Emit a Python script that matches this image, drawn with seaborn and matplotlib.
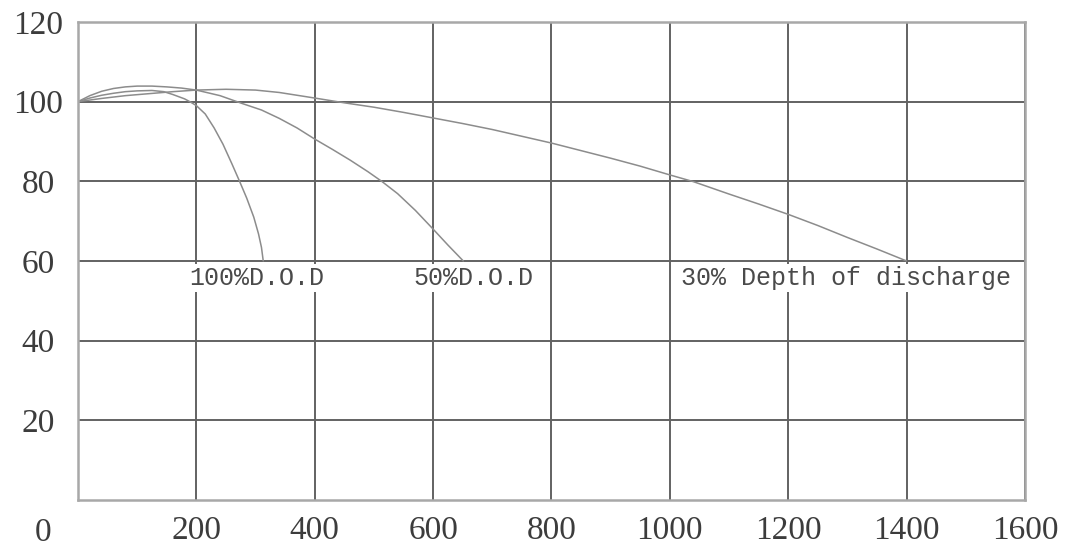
"""Cycle life vs depth of discharge chart (datasheet style)."""

import matplotlib
matplotlib.use("Agg")

import matplotlib.pyplot as plt
import seaborn as sns

# Capacity (%) vs number of cycles
dod100_cycles = [0, 20, 40, 60, 80, 100, 125, 145, 160, 180, 190, 200, 215, 230, 245,
                 260, 273, 285, 297, 305, 310, 313]
dod100_capacity = [100, 100.9, 101.6, 102.1, 102.5, 102.7, 102.8, 102.5, 101.8, 100.7,
                   99.9, 99.0, 96.9, 93.4, 89.3, 84.4, 80.0, 75.8, 71.0, 66.8, 63.4, 60.0]

dod50_cycles = [0, 20, 40, 60, 80, 100, 125, 150, 175, 200, 240, 276, 310, 340, 370,
                400, 430, 460, 490, 514, 540, 570, 600, 625, 651]
dod50_capacity = [100, 101.5, 102.6, 103.3, 103.7, 103.9, 103.9, 103.7, 103.4, 102.9,
                  101.5, 99.6, 97.9, 95.8, 93.4, 90.6, 88.0, 85.3, 82.4, 79.9, 76.9,
                  72.7, 68.0, 64.0, 60.0]

dod30_cycles = [0, 40, 80, 120, 160, 200, 250, 300, 340, 400, 450, 500, 550, 600, 650,
                700, 750, 800, 850, 900, 950, 1000, 1040, 1100, 1150, 1200, 1250, 1300,
                1350, 1400]
dod30_capacity = [100, 100.8, 101.5, 102.0, 102.5, 102.9, 103.1, 102.9, 102.3, 100.9,
                  99.7, 98.6, 97.3, 95.9, 94.5, 93.0, 91.3, 89.6, 87.7, 85.8, 83.8,
                  81.6, 79.9, 76.8, 74.3, 71.7, 68.9, 65.9, 63.0, 60.0]

curve_labels = ["100%D.O.D", "50%D.O.D", "30% Depth of discharge"]
label_x = [188, 566, 1018]
label_y = [55.6, 55.6, 55.6]

x_ticks = [200, 400, 600, 800, 1000, 1200, 1400, 1600]
y_ticks = [20, 40, 60, 80, 100, 120]

GRID = "#626262"
FRAME = "#a8a8a8"
CURVE = "#8c8c8c"
TEXT = "#3c3c3c"

sns.set_theme(style="white")
plt.rcParams.update({
    "font.family": ["Liberation Serif", "DejaVu Serif"],
    "axes.edgecolor": FRAME,
    "axes.linewidth": 1.8,
    "xtick.color": TEXT,
    "ytick.color": TEXT,
})

fig, ax = plt.subplots(figsize=(10.67, 5.49), dpi=100)
fig.subplots_adjust(left=0.0731, right=0.9606, top=0.96, bottom=0.0893)

series = [
    (dod100_cycles, dod100_capacity),
    (dod50_cycles, dod50_capacity),
    (dod30_cycles, dod30_capacity),
]
for cycles, capacity in series:
    sns.lineplot(x=cycles, y=capacity, ax=ax, color=CURVE, linewidth=1.1,
                 estimator=None, sort=False)

ax.set_xlim(0, 1600)
ax.set_ylim(0, 120)
ax.set_xticks(x_ticks)
ax.set_xticklabels([str(t) for t in x_ticks], fontsize=24)
ax.set_yticks(y_ticks)
ax.set_yticklabels([str(t) for t in y_ticks], fontsize=24)
for lbl in ax.get_yticklabels():
    lbl.set_horizontalalignment("center")
ax.tick_params(axis="y", length=0, pad=28.5)
ax.tick_params(axis="x", length=0, pad=11)

ax.set_axisbelow(True)
ax.grid(True, color=GRID, linewidth=1.4)
for side in ["top", "bottom", "left", "right"]:
    ax.spines[side].set_visible(True)
    ax.spines[side].set_zorder(5)

# the shared corner origin label
ax.text(-0.037, -0.069, "0", transform=ax.transAxes, ha="center", va="center",
        fontsize=24, color=TEXT)

for text, tx, ty in zip(curve_labels, label_x, label_y):
    ax.text(tx, ty, text, ha="left", va="center", fontsize=18, color="#4a4a4a",
            family=["Liberation Mono", "DejaVu Sans Mono"], zorder=4,
            bbox=dict(facecolor="white", edgecolor="none", pad=1.5))

ax.set_xlabel("")
ax.set_ylabel("")

plt.savefig("out.png", dpi=100)
plt.close()
